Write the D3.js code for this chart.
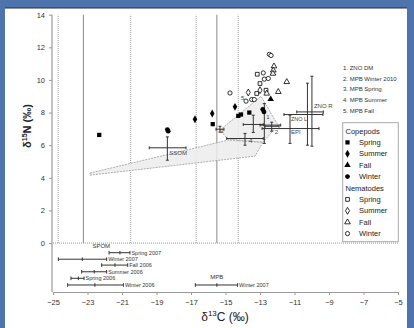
<!DOCTYPE html>
<html>
<head>
<meta charset="utf-8">
<script src="https://cdn.jsdelivr.net/npm/d3@7"></script>
<style>
  html, body { margin: 0; padding: 0; background: #4f74ad; }
  svg { display: block; font-family: "Liberation Sans", Arial, sans-serif; }
</style>
</head>
<body>
<svg id="chart" width="414" height="328"></svg>
<script>
// axis ticks
const xTicks = [-25, -23, -21, -19, -17, -15, -13, -11, -9, -7, -5];
const yTicks = [0, 2, 4, 6, 8, 10, 12, 14];

// source range lines
const solidLines = [-23.24, -15.5];
const dottedLines = [-24.7, -20.5, -16.7, -14.26];

// copepods
const copepodSpring = [[-22.32, 6.63], [-15.74, 7.29], [-14.26, 7.8], [-14.1, 7.88], [-13.62, 8.0]];
const copepodSummer = [[-16.77, 7.59], [-15.77, 7.94], [-14.45, 8.35]];
const copepodFall = [[-12.38, 8.82]];
const copepodWinter = [[-18.37, 6.96], [-18.32, 6.86], [-12.84, 8.19], [-12.77, 8.04]];

// nematodes
const nematodeSpring = [[-13.16, 10.35], [-13.0, 9.78], [-13.19, 9.17], [-12.65, 9.37]];
const nematodeSummer = [[-13.68, 9.23], [-13.0, 9.37]];
const nematodeFall = [[-12.19, 10.84], [-12.23, 10.59], [-12.25, 10.39], [-11.45, 9.88], [-11.94, 9.27], [-12.61, 9.17]];
const nematodeWinter = [[-12.46, 11.57], [-12.36, 11.5], [-12.81, 10.43], [-12.75, 10.05], [-12.52, 10.09],
  [-14.74, 9.2], [-13.48, 8.8], [-13.33, 8.8], [-13.81, 8.7]];

// mixing polygons
const mixingSSOM = [[-22.86, 4.29], [-14.86, 6.31], [-12.83, 6.18], [-13.29, 5.33], [-22.86, 4.16]];
const mixingMPB = [[-15.32, 6.92], [-12.94, 9.0], [-11.96, 7.23], [-12.83, 6.18], [-14.86, 6.37]];

// sources: mean and range
const sourceNames = ["SSOM", "ZNO R", "ZNO L", "EPI", "1", "2", "3", "4"];
const sourceX = [-18.37, -9.99, -10.25, -11.26, -12.75, -12.32, -13.39, -13.87];
const sourceXLo = [-19.42, -10.87, -11.61, -12.88, -13.0, -12.71, -13.97, -14.93];
const sourceXHi = [-17.29, -9.33, -9.35, -9.58, -11.8, -11.9, -12.81, -12.81];
const sourceY = [5.84, 8.04, 7.88, 7.02, 7.23, 7.16, 7.27, 6.41];
const sourceYLo = [5.08, 5.94, 6.0, 6.11, 6.11, 6.86, 6.78, 6.0];
const sourceYHi = [6.51, 10.23, 9.8, 7.84, 8.55, 7.41, 7.84, 6.72];
const extraCrossX = [-15.32];
const extraCrossXLo = [-15.55];
const extraCrossXHi = [-15.09];
const extraCrossY = [6.98];
const extraCrossYLo = [6.8];
const extraCrossYHi = [7.16];

// SPOM and MPB ranges (below zero)
const rangeLabels = ["Spring 2007", "Winter 2007", "Fall 2006", "Summer 2006", "Spring 2006", "Winter 2006", "Winter 2007"];
const rangeMin = [-21.75, -24.69, -22.18, -23.34, -23.96, -24.15, -16.75];
const rangeMean = [-21.12, -23.3, -21.41, -22.61, -23.53, -22.57, -15.5];
const rangeMax = [-20.54, -21.89, -20.67, -21.89, -23.2, -20.92, -14.3];
const rangeY = [-0.59, -0.99, -1.35, -1.76, -2.16, -2.57, -2.57];

const sourceList = ["1. ZNO DM", "2. MPB Winter 2010", "3. MPB Spring", "4. MPB Summer", "5. MPB Fall"];
const seasons = ["Spring", "Summer", "Fall", "Winter"];

const svg = d3.select("#chart");

// white panel
svg.append("rect").attr("x", 5).attr("y", 8).attr("width", 402).attr("height", 320).attr("fill", "#fff");
svg.append("line").attr("x1", 5).attr("x2", 407).attr("y1", 8).attr("y2", 8)
  .attr("stroke", "#1d2c44").attr("stroke-width", 1.2);

const x = d3.scaleLinear().domain([-25, -5]).range([53, 398]);
const y = d3.scaleLinear().domain([-3, 14]).range([292, 14.7]);

// axes
const xAxis = svg.append("g").attr("transform", `translate(0,${y(-3)})`)
  .call(d3.axisBottom(x).tickValues(xTicks).tickSize(3).tickPadding(5));
const yAxis = svg.append("g").attr("transform", `translate(${x(-25) - 1},0)`)
  .call(d3.axisLeft(y).tickValues(yTicks).tickSize(3).tickPadding(4));
[xAxis, yAxis].forEach(g => {
  g.select(".domain").attr("stroke", "#999").attr("stroke-width", 1.2);
  g.selectAll(".tick line").attr("stroke", "#999");
  g.selectAll(".tick text").attr("fill", "#333").style("font-size", "7.5px");
});
yAxis.select(".domain").attr("d", `M0,${y(14)}V${y(-3)}`);

// zero line
svg.append("line").attr("x1", x(-25)).attr("x2", x(-5)).attr("y1", y(0)).attr("y2", y(0))
  .attr("stroke", "#999").attr("stroke-dasharray", "1,1");

// vertical range lines
svg.selectAll("line.solid").data(solidLines).join("line")
  .attr("x1", d => x(d)).attr("x2", d => x(d)).attr("y1", y(0)).attr("y2", y(14))
  .attr("stroke", "#888").attr("stroke-width", 1);
svg.selectAll("line.dotted").data(dottedLines).join("line")
  .attr("x1", d => x(d)).attr("x2", d => x(d)).attr("y1", y(0)).attr("y2", y(14))
  .attr("stroke", "#999").attr("stroke-dasharray", "1,1");

// mixing polygons
const line = d3.line().x(d => x(d[0])).y(d => y(d[1])).curve(d3.curveLinearClosed);
[mixingSSOM, mixingMPB].forEach(p => {
  svg.append("path").attr("d", line(p))
    .attr("fill", "#ececec").attr("fill-opacity", 0.85)
    .attr("stroke", "#999").attr("stroke-width", 0.8).attr("stroke-dasharray", "2,1");
});

// error crosses
function cross(cx, lo, hi, cy, ylo, yhi) {
  const g = svg.append("g").attr("stroke", "#333").attr("stroke-width", 1);
  g.append("line").attr("x1", x(lo)).attr("x2", x(hi)).attr("y1", y(cy)).attr("y2", y(cy));
  g.append("line").attr("x1", x(cx)).attr("x2", x(cx)).attr("y1", y(ylo)).attr("y2", y(yhi));
  [lo, hi].forEach(v => g.append("line").attr("x1", x(v)).attr("x2", x(v)).attr("y1", y(cy) - 1.5).attr("y2", y(cy) + 1.5));
  [ylo, yhi].forEach(v => g.append("line").attr("x1", x(cx) - 1.5).attr("x2", x(cx) + 1.5).attr("y1", y(v)).attr("y2", y(v)));
}
sourceNames.forEach((n, i) => cross(sourceX[i], sourceXLo[i], sourceXHi[i], sourceY[i], sourceYLo[i], sourceYHi[i]));
extraCrossX.forEach((v, i) => cross(v, extraCrossXLo[i], extraCrossXHi[i], extraCrossY[i], extraCrossYLo[i], extraCrossYHi[i]));

// source labels
const labelOffsets = [[2, 7], [2, -4], [-16.5, 6.5], [1, 5], [2, -6], [3, 8], [-33, 9], [4, 4]];
svg.selectAll("text.src").data(sourceNames).join("text")
  .attr("x", (d, i) => x(sourceX[i]) + labelOffsets[i][0])
  .attr("y", (d, i) => y(sourceY[i]) + labelOffsets[i][1])
  .attr("fill", "#444").style("font-size", (d, i) => i === 2 ? "5.5px" : "6px").text(d => d);
svg.append("text").attr("x", x(-14.1)).attr("y", y(8.75)).attr("fill", "#444").style("font-size", "6px").text("5");

// markers
const sym = (type, size) => d3.symbol().type(type).size(size)();
const groups = [
  [copepodSpring, d3.symbolSquare, true], [copepodSummer, d3.symbolDiamond, true],
  [copepodFall, d3.symbolTriangle, true], [copepodWinter, d3.symbolCircle, true],
  [nematodeSpring, d3.symbolSquare, false], [nematodeSummer, d3.symbolDiamond, false],
  [nematodeFall, d3.symbolTriangle, false], [nematodeWinter, d3.symbolCircle, false]
];
groups.forEach(([data, type, filled]) => {
  svg.append("g").selectAll("path").data(data).join("path")
    .attr("transform", d => `translate(${x(d[0])},${y(d[1])})`)
    .attr("d", sym(type, filled ? 18 : 14))
    .attr("fill", filled ? "#000" : "#fff")
    .attr("stroke", "#000").attr("stroke-width", filled ? 0 : 0.8);
});

// SPOM / MPB range bars
const rg = svg.append("g").attr("stroke", "#333").attr("stroke-width", 1);
rangeLabels.forEach((lab, i) => {
  const yy = y(rangeY[i]);
  rg.append("line").attr("x1", x(rangeMin[i])).attr("x2", x(rangeMax[i])).attr("y1", yy).attr("y2", yy);
  [rangeMin[i], rangeMean[i], rangeMax[i]].forEach(v =>
    rg.append("line").attr("x1", x(v)).attr("x2", x(v)).attr("y1", yy - 1.8).attr("y2", yy + 1.8));
  svg.append("text").attr("x", x(rangeMax[i]) + 1.5).attr("y", yy).attr("dy", "0.35em")
    .attr("fill", "#333").style("font-size", "5.5px").text(lab);
});
svg.append("text").attr("x", x(-22.2)).attr("y", y(-0.33)).attr("text-anchor", "middle")
  .attr("fill", "#333").style("font-size", "6px").text("SPOM");
svg.append("text").attr("x", x(-15.5)).attr("y", y(-2.22)).attr("text-anchor", "middle")
  .attr("fill", "#333").style("font-size", "6px").text("MPB");

// numbered source list
svg.selectAll("text.list").data(sourceList).join("text")
  .attr("x", 343).attr("y", (d, i) => 70 + i * 10.7)
  .attr("fill", "#333").style("font-size", "6px").text(d => d);

// legend
const lg = svg.append("g");
lg.append("rect").attr("x", 342.7).attr("y", 122.7).attr("width", 55.6).attr("height", 119)
  .attr("fill", "#fff").attr("stroke", "#aaa").attr("stroke-width", 1);
const legendRows = [["Copepods", null, null]]
  .concat(seasons.map((s, i) => [s, groups[i][1], true]))
  .concat([["Nematodes", null, null]])
  .concat(seasons.map((s, i) => [s, groups[i + 4][1], false]));
legendRows.forEach(([label, type, filled], i) => {
  const yy = 131 + i * 11.4;
  if (type === null) {
    lg.append("text").attr("x", 345.5).attr("y", yy).attr("dy", "0.35em")
      .attr("fill", "#222").style("font-size", "7.5px").text(label);
  } else {
    lg.append("path").attr("transform", `translate(347.5,${yy})`)
      .attr("d", sym(type, filled ? 18 : 14))
      .attr("fill", filled ? "#000" : "#fff").attr("stroke", "#000").attr("stroke-width", filled ? 0 : 0.8);
    lg.append("text").attr("x", 359).attr("y", yy).attr("dy", "0.35em")
      .attr("fill", "#222").style("font-size", "7.5px").text(label);
  }
});

// axis titles
const yt = svg.append("text").attr("transform", "translate(31,126) rotate(-90)")
  .attr("text-anchor", "middle").attr("fill", "#222").style("font-size", "11px").style("font-weight", "bold");
yt.append("tspan").text("δ");
yt.append("tspan").attr("dy", -4).style("font-size", "7px").text("15");
yt.append("tspan").attr("dy", 4).text("N (‰)");

const xt = svg.append("text").attr("x", 225).attr("y", 321)
  .attr("text-anchor", "middle").attr("fill", "#222").style("font-size", "12px");
xt.append("tspan").text("δ");
xt.append("tspan").attr("dy", -5).style("font-size", "8px").text("13");
xt.append("tspan").attr("dy", 5).text("C (‰)");
</script>
</body>
</html>
